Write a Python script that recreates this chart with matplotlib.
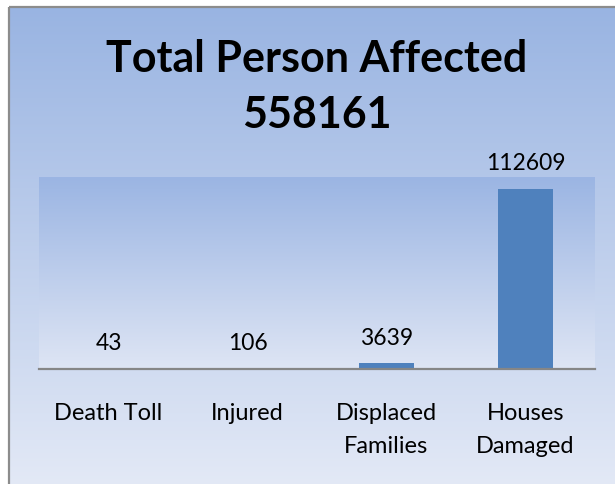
import matplotlib
matplotlib.use("Agg")
import matplotlib.pyplot as plt
import numpy as np
from matplotlib.colors import LinearSegmentedColormap
from matplotlib.patches import Rectangle

categories = ["Death Toll", "Injured", "Displaced\nFamilies", "Houses\nDamaged"]
values = [43, 106, 3639, 112609]
title_lines = ["Total Person Affected", "558161"]

W, H = 615, 484
DPI = 100
plt.rcParams['font.family'] = ['Lato', 'DejaVu Sans']

fig = plt.figure(figsize=(W / DPI, H / DPI), dpi=DPI, facecolor='white')

# background chart area with vertical gradient
bg = fig.add_axes([0, 0, 1, 1])
bg.set_xlim(0, W)
bg.set_ylim(H, 0)
bg.axis('off')
cmap_bg = LinearSegmentedColormap.from_list('bg', ['#99B4E2', '#E3E9F6'])
grad = np.linspace(0, 1, 256).reshape(-1, 1)
bg.imshow(grad, cmap=cmap_bg, extent=[9, W + 2, H + 2, 7], aspect='auto', origin='upper', zorder=0)
bg.add_patch(Rectangle((9, 7), W, H, fill=False, edgecolor='#8C8C8C', linewidth=1.6, zorder=1))

# title
bg.text(317, 59, title_lines[0], ha='center', va='center', fontsize=31, fontweight='bold', color='black')
bg.text(317, 115, title_lines[1], ha='center', va='center', fontsize=31, fontweight='bold', color='black')

# plot area
left, right = 39 / W, 595 / W
bottom, top = (H - 369) / H, (H - 177) / H
ax = fig.add_axes([left, bottom, right - left, top - bottom])
ax.set_facecolor('none')
ymax = 120000
x = np.arange(len(categories))
ax.set_xlim(-0.5, len(categories) - 0.5)
ax.set_ylim(0, ymax)
cmap_pa = LinearSegmentedColormap.from_list('pa', ['#DEE5F4', '#9BB5E3'])
ax.imshow(grad, cmap=cmap_pa, extent=[-0.5, len(categories) - 0.5, 0, ymax], aspect='auto', origin='lower', zorder=0)

bars = ax.bar(x, values, width=0.4, color='#4F81BD', zorder=2)
for xi, v in zip(x, values):
    ax.annotate(str(v), (xi, v), xytext=(0, 18), textcoords='offset points',
                ha='center', va='center', fontsize=16.5, color='black')

for s in ['top', 'right', 'left']:
    ax.spines[s].set_visible(False)
ax.spines['bottom'].set_color('#868686')
ax.spines['bottom'].set_linewidth(1.6)
ax.spines['bottom'].set_zorder(3)
ax.set_yticks([])
ax.set_xticks(x)
ax.set_xticklabels(categories, fontsize=17, linespacing=1.7)
ax.tick_params(axis='x', length=0, pad=24.5)

fig.savefig('out.png', dpi=DPI, facecolor='white')
